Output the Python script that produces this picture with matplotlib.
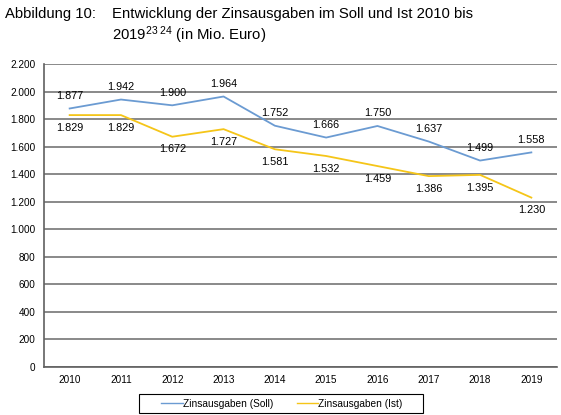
import numpy as np
import matplotlib.pyplot as plt
from matplotlib.patches import Rectangle

plt.rcParams['font.family'] = ['Liberation Sans', 'DejaVu Sans']
plt.rcParams['mathtext.fontset'] = 'custom'
plt.rcParams['mathtext.rm'] = 'Liberation Sans'
plt.rcParams['mathtext.it'] = 'Liberation Sans'

years = ['2010', '2011', '2012', '2013', '2014', '2015', '2016', '2017', '2018', '2019']
soll = [1877, 1942, 1900, 1964, 1752, 1666, 1750, 1637, 1499, 1558]
ist = [1829, 1829, 1672, 1727, 1581, 1532, 1459, 1386, 1395, 1230]
yticks = [0, 200, 400, 600, 800, 1000, 1200, 1400, 1600, 1800, 2000, 2200]

def fmt(v):
    return f'{v:,}'.replace(',', '.')

W, H = 561, 415
fig = plt.figure(figsize=(W/100, H/100), dpi=100)
ax = fig.add_axes([44/W, 1 - 367/H, 513/W, 303/H])

x = np.arange(len(years))
ax.plot(x, soll, color='#6b9bd2', lw=1.3, label='Zinsausgaben (Soll)')
ax.plot(x, ist, color='#f5c518', lw=1.3, label='Zinsausgaben (Ist)')

for i in x:
    ax.annotate(fmt(soll[i]), (i, soll[i]), xytext=(0, 5.5), textcoords='offset points',
                ha='center', va='bottom', fontsize=7.8)
    ax.annotate(fmt(ist[i]), (i, ist[i]), xytext=(0, -5.5), textcoords='offset points',
                ha='center', va='top', fontsize=7.8)

ax.set_xlim(-0.5, len(years) - 0.5)
ax.set_ylim(0, 2200)
ax.set_yticks(yticks)
ax.set_yticklabels([fmt(v) for v in yticks], fontsize=7.2)
ax.set_xticks(x)
ax.set_xticklabels(years, fontsize=7.2)
ax.tick_params(length=0, pad=6)
ax.grid(axis='y', color='#808080', lw=1.3)
ax.set_axisbelow(True)
for s in ['top', 'right']:
    ax.spines[s].set_visible(False)
for s in ['left', 'bottom']:
    ax.spines[s].set_color('#606060')
    ax.spines[s].set_linewidth(1.2)

# legend box
fig.patches.append(Rectangle((139/W, 1 - 413/H), 284/W, 19/H, transform=fig.transFigure,
                             facecolor='white', edgecolor='black', lw=0.8))
leg = fig.legend(loc='center', bbox_to_anchor=(282/W, 1 - 403.5/H), ncol=2,
                 fontsize=7.3, frameon=False, handlelength=2.1, handletextpad=0.0,
                 columnspacing=2.4, borderpad=0.35, borderaxespad=0)
for ln in leg.get_lines():
    ln.set_linewidth(1.0)

fig.text(5/W, 1 - 14/H, 'Abbildung 10:', fontsize=10.7, va='center')
fig.text(112/W, 1 - 14/H, 'Entwicklung der Zinsausgaben im Soll und Ist 2010 bis',
         fontsize=10.7, va='center')
fig.text(112/W, 1 - 35/H, r'2019$^{23\ 24}$ (in Mio. Euro)', fontsize=10.7, va='center')

fig.savefig('out.png', dpi=100)
